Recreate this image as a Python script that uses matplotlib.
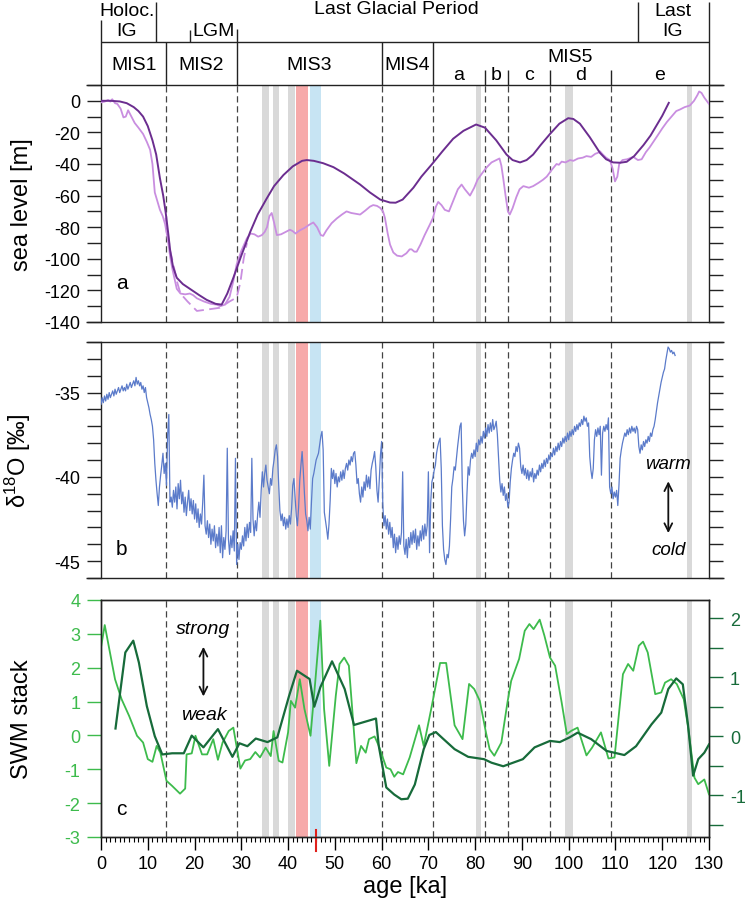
import numpy as np
import matplotlib
matplotlib.use('Agg')
import matplotlib.pyplot as plt
from matplotlib.ticker import MultipleLocator
import matplotlib.transforms as mtransforms

plt.rcParams['font.family'] = ['Liberation Sans', 'DejaVu Sans']
plt.rcParams['axes.unicode_minus'] = False

# ---------------- datos ----------------
# panel a: nivel del mar (curva suave oscura)
sl1_age = [0, 2, 4, 5.5, 7, 8, 9, 10, 11, 11.8, 12.6, 13.3, 13.8, 14.3, 14.8, 15.4, 16.2, 17.5, 19, 21,
           22.6, 24.5, 25.8, 27, 28.3, 30, 31.9, 33.5, 35.4, 37, 39, 41, 43, 44, 45.5, 47.5, 49.7, 52,
           55.4, 57.5, 59.7, 61.8, 63, 64.5, 66.8, 68.5, 70.8, 73, 75.3, 77.5, 80.2, 82.1, 84.5, 86.7,
           88, 89.6, 91, 92.4, 94, 96, 98, 99.9, 101, 102.4, 104.5, 106.7, 108, 109.5, 111, 112.4, 114,
           116, 117.5, 118.8, 120, 121.4]
sl1_val = [0, 0, -0.4, -1.5, -4, -6.5, -10, -16, -25, -34, -49, -60, -70, -82, -95, -105, -112, -116, -119, -123,
           -126, -128.5, -129, -122, -112, -98, -83, -72, -62, -54, -47, -41.5, -38, -37.5, -38, -39.5, -42, -46,
           -53, -58, -62.5, -64.4, -64.5, -62.5, -55, -48, -40, -32, -24, -19, -15, -17, -25, -34,
           -37.5, -39, -37.5, -34, -28, -21, -14.5, -11, -11.5, -14.5, -23, -33, -37, -39, -39.2, -38.6, -35,
           -28, -22, -15.5, -9.5, -1.3]

# panel a: nivel del mar (curva clara)
sl2_age = [0, 0.8, 1.5, 2.0, 2.4, 3.0, 3.5, 4.2, 4.8, 5.3, 5.8, 6.5, 7.2, 8.0, 9.0, 9.8, 10.5, 11.0, 11.5, 12.0,
           12.6, 13.2, 13.7, 14.3, 14.8, 15.3, 16.2, 17, 18, 19, 19.7, 20.5, 22, 23.5, 24.7, 25.5, 26.5, 27.5,
           28.3, 29, 30, 31.2, 32, 32.8, 33.6, 34.4, 35.0, 35.5, 36.0, 36.5, 37.0, 37.6, 38.5, 39.5, 40.4,
           41, 41.6, 42.5, 43.5, 44.5, 45.4, 46.2, 47, 47.5, 48.2, 49.3, 50.4, 51.5, 52.5, 53.5, 55.4, 56.5,
           57.5, 58.2, 59, 59.7, 60.3, 60.7, 61.3, 61.8, 62.5, 63.3, 64.3, 65.3, 66.0, 66.4, 67, 67.5, 68.3,
           69.2, 70.3, 71, 71.6, 72.1, 72.8, 73.5, 74.4, 75.5, 76.3, 77.1, 77.8, 78.9, 79.8, 80.5, 81.7, 82.5,
           83.5, 84.5, 85.2, 85.6, 86.0, 86.5, 87.0, 87.4, 88.0, 88.8, 89.5, 90.3, 91.5, 92.4, 93.5, 94.5,
           95.3, 96.3, 97.4, 97.9, 98.5, 99.3, 100.3, 101, 102, 103, 103.8, 104.8, 105.7, 106.2, 106.7, 107.3,
           108, 108.8, 109.4, 109.9, 110.4, 110.8, 111.5, 112.5, 113.8, 114.8, 115.6, 116.5, 117.3, 118.1,
           119, 120, 121, 122, 123, 123.8, 124.8, 125.9, 126.8, 127.5, 127.9, 128.4, 129, 129.7, 130]
sl2_val = [-1, -0.5, 0.5, -0.5, 1.0, -1.5, -2, -5, -10.5, -10, -6, -10, -14, -17, -21, -26, -31, -40, -58, -63,
           -69, -73, -78, -88, -99, -107, -119, -122, -122.5, -122, -123, -125, -127, -128.5, -129, -130, -129, -124,
           -114, -103.6, -95, -87, -84, -84.5, -86, -85, -83, -80, -73, -71, -77, -85, -84.5, -83, -81.6,
           -82.5, -84, -82, -80.5, -78.5, -77, -80, -85, -85.5, -82, -77.5, -74.5, -72, -70, -71, -72, -69.5,
           -67, -66, -66.5, -67.8, -70, -74, -84, -91, -96, -98, -98.5, -96.5, -94, -94, -95.5, -95.5, -91,
           -85, -78.4, -74, -67, -64, -66, -69, -70, -62, -56, -53, -56, -60, -55, -50, -45, -42,
           -39, -37.5, -36.5, -41, -49, -60, -70, -72, -68, -61, -56, -54, -55, -54, -52, -50,
           -48, -44, -40, -40.5, -38.5, -39, -37.5, -38, -36.5, -36, -35, -35.5, -33.5, -33, -32, -34,
           -36, -37.5, -43, -51, -48, -40, -37.5, -37, -35.5, -37.5, -37, -32.5, -29.5, -26,
           -22, -17.5, -13.4, -10, -6.5, -5.5, -4, -3, 0, 3.5, 5.9, 5, 2, -0.8, -2]

# panel a: tramo discontinuo (LGM)
sl3_age = [13.8, 14.8, 15.5, 16.3, 17, 18.5, 20.5, 23, 25.4, 27.5, 29, 29.8, 30.5, 31.2]
sl3_val = [-74, -95, -104, -115, -122, -127, -133, -132, -131, -127, -124.5, -115, -100, -90]

# panel b: d18O, un valor cada 0.25 ka desde 0 ka
d18o = [
    -35.7, -35.3, -35.6, -35.2, -35.5, -35.1, -35.4, -35.0, -35.3, -35.1, -34.9, -35.2, -34.8, -35.1, -34.9, -34.7, -35.0, -34.8, -34.6, -34.9,
    -34.7, -34.9, -34.5, -34.8, -34.6, -34.4, -34.7, -34.5, -34.3, -34.6, -34.1, -34.5, -34.3, -34.6, -34.4, -34.8, -34.6, -35.0, -34.7, -35.3,
    -35.6, -35.9, -36.3, -36.6, -37.0, -37.8, -39.2, -40.2, -41.0, -41.7, -40.6, -39.9, -39.3, -38.6, -39.8, -39.2, -40.5, -37.5, -36.3, -41.5,
    -41.2, -41.8, -40.8, -41.5, -40.6, -41.9, -40.4, -41.3, -40.2, -41.6, -40.9, -42.1, -41.2, -42.3, -41.5, -40.8, -42.0, -41.3, -42.2, -41.4,
    -42.5, -41.6, -42.7, -41.9, -43.0, -42.2, -42.8, -41.5, -39.9, -42.9, -43.4, -42.6, -43.6, -42.8, -44.0, -43.1, -43.8, -42.9, -44.2, -43.4,
    -44.1, -43.0, -44.5, -42.9, -44.8, -43.6, -44.3, -43.2, -38.3, -43.7, -44.6, -43.5, -44.2, -43.2, -44.4, -38.9, -45.2, -44.0, -44.9, -43.9,
    -44.3, -43.5, -44.1, -43.0, -43.8, -42.8, -43.6, -42.7, -43.3, -38.9, -42.5, -43.5, -42.6, -43.2, -42.2, -41.5, -42.4, -40.8, -39.7, -40.6,
    -39.8, -39.3, -40.2, -40.6, -41.0, -40.1, -40.5, -39.5, -39.0, -38.4, -38.1, -38.8, -40.5, -42.0, -42.6, -42.2, -42.9, -42.4, -43.1, -42.5,
    -43.0, -42.3, -42.8, -41.9, -40.5, -40.1, -41.2, -42.3, -42.9, -41.8, -40.2, -39.3, -38.5, -39.6, -41.0, -42.2, -42.6, -43.2, -42.4, -43.1,
    -41.5, -40.1, -39.8, -39.4, -39.0, -38.8, -38.6, -38.1, -37.6, -37.3, -38.4, -42.1, -42.6, -43.1, -43.7, -42.8, -41.4, -39.5, -40.1, -39.6,
    -40.4, -39.8, -40.6, -40.0, -40.3, -39.7, -40.2, -39.6, -40.1, -39.5, -39.2, -39.6, -39.0, -39.3, -38.8, -39.1, -38.6, -38.5, -39.3, -40.4,
    -40.1, -41.0, -41.5, -40.6, -41.2, -40.3, -40.8, -39.9, -40.6, -40.0, -40.7, -39.6, -39.2, -38.9, -38.5, -39.4, -40.8, -41.5, -40.2, -38.7,
    -37.9, -41.6, -42.9, -42.3, -43.1, -42.5, -43.4, -42.7, -43.6, -43.0, -44.2, -43.4, -44.5, -43.6, -44.3, -43.5, -44.0, -43.3, -39.7, -44.1,
    -44.6, -43.7, -44.8, -43.6, -44.2, -43.3, -44.0, -43.2, -43.9, -43.1, -44.3, -43.5, -44.1, -43.2, -43.8, -42.9, -43.7, -42.8, -43.5, -42.9,
    -39.7, -44.5, -41.5, -40.3, -40.0, -39.6, -39.3, -38.6, -38.2, -37.9, -37.7, -39.5, -42.9, -44.3, -44.9, -45.2, -44.6, -44.8, -44.1, -42.5,
    -40.6, -40.1, -39.4, -39.6, -38.9, -38.2, -37.6, -37.0, -36.8, -40.5, -42.6, -43.5, -42.8, -41.0, -39.4, -39.9, -39.0, -38.6, -38.9, -38.4,
    -38.8, -38.0, -38.5, -37.8, -38.1, -37.6, -38.0, -37.3, -37.7, -37.1, -37.6, -36.9, -37.4, -36.8, -37.3, -36.6, -37.2, -37.0, -36.7, -37.5,
    -38.8, -40.2, -40.9, -40.4, -41.1, -40.6, -41.4, -41.0, -41.8, -41.5, -40.3, -39.5, -39.0, -38.6, -38.8, -38.2, -38.5, -38.0, -38.3, -39.4,
    -39.8, -39.3, -39.9, -39.5, -40.1, -39.6, -40.2, -39.7, -40.0, -39.5, -40.3, -39.8, -40.1, -39.6, -39.9, -39.3, -39.7, -39.2, -39.5, -39.0,
    -39.4, -38.9, -39.2, -38.7, -39.0, -38.6, -38.8, -38.3, -38.7, -38.2, -38.5, -38.0, -38.4, -37.9, -38.2, -37.7, -38.0, -37.6, -37.9, -37.4,
    -37.8, -37.3, -37.6, -37.2, -37.5, -37.0, -37.3, -36.9, -37.2, -36.8, -37.0, -36.6, -36.9, -36.4, -36.7, -36.5, -37.0, -36.8, -38.8, -39.6,
    -40.1, -39.5, -37.8, -37.2, -37.6, -37.1, -37.5, -37.0, -39.9, -37.4, -37.0, -37.3, -36.9, -37.2, -36.5, -40.6, -41.0, -40.6, -41.3, -40.9,
    -41.2, -40.8, -41.7, -40.5, -38.9, -38.4, -38.0, -37.7, -37.4, -37.6, -37.2, -37.5, -37.1, -37.4, -37.0, -37.3, -37.1, -37.4, -37.0, -37.2,
    -38.2, -38.6, -38.1, -38.4, -37.9, -38.2, -37.8, -38.0, -37.6, -37.9, -37.4, -37.6, -37.2, -37.0, -36.6, -36.1, -35.6, -35.2, -34.8, -34.4,
    -34.1, -33.8, -33.6, -33.1, -32.7, -32.3, -32.4, -32.6, -32.5, -32.7, -32.6, -32.8]

# panel c: SWM stack (verde claro, eje izquierdo)
swm1_age = [0, 0.8, 3.0, 4.4, 6.0, 7.7, 9.0, 10.0, 11.0, 11.9, 12.7, 14.0, 15.2, 16.9, 18.0, 18.3, 19.4, 20.2,
            21.6, 22.7, 24.0, 25.0, 26.0, 27.3, 28.3, 29.8, 30.8, 31.9, 33.0, 34.0, 35.2, 36.3, 36.9, 38.0,
            38.8, 40.0, 40.6, 41.5, 42.5, 43.5, 44.8, 45.8, 46.9, 47.7, 48.8, 50.2, 51.0, 52.0, 53.0, 54.6,
            55.6, 56.6, 57.3, 58.5, 59.4, 61.0, 61.9, 62.7, 63.5, 64.6, 66.0, 68.0, 69.0, 70.6, 72.5, 73.8,
            75.6, 77.3, 78.7, 79.8, 81.0, 82.3, 83.1, 84.1, 85.6, 86.9, 87.7, 89.4, 90.6, 91.6, 92.5, 93.8,
            94.8, 96.0, 97.1, 98.5, 99.6, 100.6, 101.9, 103.8, 105.0, 106.9, 108.5, 109.8, 111.6, 112.7,
            113.8, 115.0, 115.9, 116.9, 118.5, 119.8, 120.6, 121.9, 123.1, 124.6, 125.6, 126.9, 127.7, 129.0, 130.0]
swm1_val = [2.6, 3.26, 1.66, 1.07, 0.58, -0.01, -0.21, -0.70, -0.78, -0.31, -0.51, -1.34, -1.49, -1.72, -1.57, -0.56, -0.53, -0.01,
            -0.56, -0.56, -0.11, -0.72, -0.21, 0.13, 0.23, -0.98, -0.74, -0.70, -0.49, -0.65, -0.36, -0.61, 0.13, -0.75,
            -0.80, 0.09, 1.02, 0.82, 1.66, 0.78, -0.01, 1.57, 3.39, 0.78, -0.90, 1.17, 2.11, 2.30, 2.06, -0.82,
            -0.31, -0.51, -0.11, -0.03, -0.31, -0.95, -1.00, -1.22, -1.08, -1.15, -0.65, 0.30, -0.31, 0.78, 2.14, 2.14,
            0.30, -0.11, 1.52, 1.37, 1.02, 0.09, -0.41, -0.60, -0.21, 0.97, 1.61, 2.26, 3.09, 3.29, 3.14, 3.42,
            2.95, 2.30, 2.06, 0.97, 0.04, 0.14, 0.23, -0.59, -0.36, 0.09, -0.68, -0.65, 1.81, 2.11,
            1.91, 2.65, 2.77, 2.45, 1.22, 1.27, 1.56, 1.66, 1.52, 1.07, 0.18, -1.25, -1.44, -1.30, -1.74]

# panel c: SWM stack (verde oscuro, eje derecho)
swm2_age = [3.1, 5.2, 6.9, 8.1, 9.8, 11.5, 13.1, 15.2, 17.7, 19.4, 21.9, 25.0, 28.1, 29.6, 31.3, 33.1, 35.6,
            37.7, 40.2, 41.9, 44.6, 45.6, 46.9, 49.4, 52.1, 54.1, 58.8, 59.4, 61.0, 62.7, 64.2, 65.6, 67.1,
            69.0, 70.2, 71.6, 73.1, 75.6, 78.5, 81.9, 83.5, 86.0, 88.1, 90.2, 92.7, 96.0, 98.1, 100.2, 101.9,
            104.8, 108.1, 111.9, 114.4, 117.7, 119.8, 121.3, 123.0, 124.4, 125.5, 126.6, 127.7, 129.0, 130.0]
swm2_val = [0.13, 1.42, 1.62, 1.25, 0.51, 0.0, -0.31, -0.29, -0.29, 0.01, -0.19, 0.12, -0.35, -0.12, -0.17, -0.04, -0.10,
            -0.02, 0.68, 1.11, 0.97, 0.50, 0.83, 1.27, 0.80, 0.19, 0.30, -0.17, -0.87, -0.99, -1.07, -1.06, -0.82,
            -0.22, 0.02, 0.07, -0.04, -0.22, -0.35, -0.39, -0.45, -0.51, -0.45, -0.39, -0.19, -0.08, -0.10, -0.02, 0.06,
            -0.05, -0.25, -0.32, -0.17, 0.20, 0.40, 0.80, 0.98, 0.88, 0.20, -0.67, -0.39, -0.28, -0.14]

# limites de estadios y eventos
lineas_mis = [14, 29, 60, 71, 82, 87, 96, 109]
bandas_gris = [(34.5, 36.0), (36.7, 38.1), (40.0, 41.5), (80.2, 81.2), (99.3, 100.9), (125.2, 126.4)]
banda_roja = (41.8, 44.2)
banda_azul = (44.7, 47.0)
evento_rojo = 46

# ---------------- figura ----------------
W, H = 749, 912
fig = plt.figure(figsize=(W / 100, H / 100), dpi=100)

x0, x1 = 101, 709
def caja(top, bottom):
    return [x0 / W, (H - bottom) / H, (x1 - x0) / W, (bottom - top) / H]

ax_h = fig.add_axes(caja(0, 86))
ax_a = fig.add_axes(caja(86, 323))
ax_b = fig.add_axes(caja(343, 579))
ax_c = fig.add_axes(caja(601, 838))

c_osc = '#6b2d8f'
c_cla = '#c98ee0'
c_azul = '#5b7bca'
c_v1 = '#3dbb4c'
c_v2 = '#176b3a'
c_dash = '#444444'
ext = 15 / 608
fs_tick = 13
fs_lab = 17
lab_x = -0.112

def fondo(ax):
    for a, b in bandas_gris:
        ax.axvspan(a, b, color='#d9d9d9', lw=0, zorder=0)
    ax.axvspan(*banda_roja, color='#f7a9a9', lw=0, zorder=0)
    ax.axvspan(*banda_azul, color='#c7e4f3', lw=0, zorder=0)
    for x in lineas_mis:
        ax.axvline(x, color=c_dash, lw=0.9, dashes=(5, 3), zorder=1)
    ax.set_xlim(0, 130)

def marco(ax, extendido=True):
    for s in ax.spines.values():
        s.set_linewidth(1.0)
        s.set_color('#222222')
    if extendido:
        ax.spines['top'].set_visible(False)
        ax.spines['bottom'].set_visible(False)
        for yy in (0, 1):
            ax.plot([-ext, 1 + ext], [yy, yy], transform=ax.transAxes, color='#222222',
                    lw=1.0, clip_on=False, solid_capstyle='butt')
    ax.tick_params(axis='y', which='both', direction='out', length=10, width=1.0,
                   labelsize=fs_tick, pad=5, right=True, labelright=False, color='#222222')

# ---- panel a ----
fondo(ax_a)
ax_a.plot(sl3_age, sl3_val, color=c_cla, lw=1.3, dashes=(6, 3), zorder=2)
ax_a.plot(sl2_age, sl2_val, color=c_cla, lw=1.3, zorder=3)
ax_a.plot(sl1_age, sl1_val, color=c_osc, lw=1.4, zorder=4)
ax_a.set_ylim(-140, 10)
ax_a.yaxis.set_major_locator(MultipleLocator(20))
ax_a.yaxis.set_minor_locator(MultipleLocator(10))
ax_a.set_xticks([])
marco(ax_a)
ax_a.set_ylabel('sea level [m]', fontsize=fs_lab)
ax_a.yaxis.set_label_coords(lab_x, 0.5)
ax_a.text(4.4, -115, 'a', fontsize=15, ha='center', va='center')

# ---- panel b ----
fondo(ax_b)
edades = np.arange(len(d18o)) * 0.25
ax_b.plot(edades, d18o, color=c_azul, lw=0.9, zorder=3)
ax_b.set_ylim(-46, -32)
ax_b.set_yticks([-35, -40, -45])
ax_b.yaxis.set_minor_locator(MultipleLocator(1))
ax_b.set_xticks([])
marco(ax_b)
ax_b.set_ylabel(r'$\mathregular{\delta^{18}}$O [‰]', fontsize=fs_lab)
ax_b.yaxis.set_label_coords(lab_x, 0.5)
ax_b.text(4.4, -44.25, 'b', fontsize=15, ha='center', va='center')
ax_b.text(121.3, -39.2, 'warm', fontsize=13.5, style='italic', ha='center', va='center')
ax_b.text(121.3, -44.3, 'cold', fontsize=13.5, style='italic', ha='center', va='center')
ax_b.annotate('', xy=(121.3, -40.1), xytext=(121.3, -43.5),
              arrowprops=dict(arrowstyle='<->', lw=1.3, color='#111111', mutation_scale=14))

# ---- panel c ----
fondo(ax_c)
ax_c.plot(swm1_age, swm1_val, color=c_v1, lw=1.3, zorder=3)
ax_c.set_ylim(-3, 4)
ax_c.set_yticks(range(-3, 5))
marco(ax_c, extendido=False)
ax_c.tick_params(axis='y', colors=c_v1, right=False)
ax_c.spines['left'].set_color('#222222')
ax_c.xaxis.set_major_locator(MultipleLocator(10))
ax_c.xaxis.set_minor_locator(MultipleLocator(1))
ax_c.tick_params(axis='x', which='major', direction='out', length=9, width=1.0, labelsize=fs_tick, pad=4)
ax_c.tick_params(axis='x', which='minor', direction='out', length=3.5, width=0.8)
ax_c.set_xlabel('age [ka]', fontsize=fs_lab, labelpad=2)
ax_c.set_ylabel('SWM stack', fontsize=fs_lab)
ax_c.yaxis.set_label_coords(lab_x, 0.5)
ax_c.text(4.4, -2.16, 'c', fontsize=15, ha='center', va='center')
ax_c.text(21.9, 3.16, 'strong', fontsize=14, style='italic', ha='center', va='center')
ax_c.text(21.9, 0.63, 'weak', fontsize=14, style='italic', ha='center', va='center')
ax_c.annotate('', xy=(21.9, 2.7), xytext=(21.9, 1.07),
              arrowprops=dict(arrowstyle='<->', lw=1.3, color='#111111', mutation_scale=14))
tr = mtransforms.blended_transform_factory(ax_c.transData, ax_c.transAxes)
ax_c.plot([evento_rojo, evento_rojo], [0.03, -0.06], transform=tr, color='#e0201b', lw=1.5,
          clip_on=False, zorder=6)

ax_c2 = ax_c.twinx()
ax_c2.plot(swm2_age, swm2_val, color=c_v2, lw=1.6, zorder=4)
ax_c2.set_ylim(-1.71, 2.31)
ax_c2.set_yticks([-1, 0, 1, 2])
ax_c2.yaxis.set_minor_locator(MultipleLocator(0.5))
ax_c2.tick_params(axis='y', which='both', direction='out', length=10, width=1.0,
                  labelsize=fs_tick, pad=5, colors=c_v2)
for s in ax_c2.spines.values():
    s.set_linewidth(1.0)
    s.set_color('#222222')
ax_c2.set_xlim(0, 130)

# ---- cabecera ----
ax_h.set_xlim(0, 130)
ax_h.set_ylim(86, 0)
ax_h.axis('off')
def linea(xs, ys):
    ax_h.plot(xs, ys, color='#222222', lw=1.0, clip_on=False, solid_capstyle='butt')

linea([0, 130], [43, 43])
linea([0, 0], [21, 86])
linea([11.7, 11.7], [3, 43])
linea([19, 19], [31, 43])
linea([114.8, 114.8], [3, 43])
linea([130, 130], [3, 86])
for x in [14, 29, 60, 71]:
    linea([x, x], [43, 86])
linea([29, 29], [30, 43])
for x in [82, 87, 96, 109]:
    linea([x, x], [71, 86])

fs_h = 14
ax_h.text(5.5, 11, 'Holoc.', fontsize=fs_h, ha='center', va='center')
ax_h.text(5.5, 31, 'IG', fontsize=fs_h, ha='center', va='center')
ax_h.text(24, 31, 'LGM', fontsize=fs_h, ha='center', va='center')
ax_h.text(63.2, 10, 'Last Glacial Period', fontsize=fs_h, ha='center', va='center')
ax_h.text(122.2, 11, 'Last', fontsize=fs_h, ha='center', va='center')
ax_h.text(122.2, 31, 'IG', fontsize=fs_h, ha='center', va='center')
for txt, x in [('MIS1', 7), ('MIS2', 21.5), ('MIS3', 44.5), ('MIS4', 65.5)]:
    ax_h.text(x, 65, txt, fontsize=fs_h, ha='center', va='center')
ax_h.text(100.3, 58, 'MIS5', fontsize=fs_h, ha='center', va='center')
for txt, x in [('a', 76.5), ('b', 84.5), ('c', 91.5), ('d', 102.5), ('e', 119.5)]:
    ax_h.text(x, 75, txt, fontsize=fs_h, ha='center', va='center')

plt.savefig('out.png', dpi=100)
plt.close()
